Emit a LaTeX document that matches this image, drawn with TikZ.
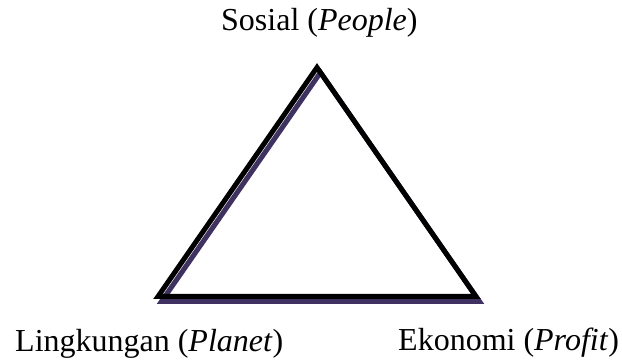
\documentclass[tikz,border=0pt]{standalone}
\usepackage{fontspec}
\setmainfont{Liberation Serif}
\begin{document}
\begin{tikzpicture}[x=1pt,y=1pt,
  lbl/.style={font=\fontsize{32}{38}\selectfont, inner sep=0pt, anchor=base west},
  edge/.style={line width=5pt, line join=miter},
  shadowedge/.style={line width=5pt, line join=miter, draw={rgb,255:red,64;green,50;blue,96}}]
\useasboundingbox (0,0) rectangle (622,362);
\coordinate (top) at (317,294.5);
\coordinate (bl) at (158,65.5);
\coordinate (br) at (476,65.5);
\draw[shadowedge] ([xshift=3.5pt,yshift=-5pt]top) -- ([xshift=3.5pt,yshift=-5pt]bl) -- ([xshift=3.5pt,yshift=-5pt]br) -- cycle;
\draw[edge] (top) -- (bl) -- (br) -- cycle;
\node[lbl] (s) at (221,331) {Sosial (\textit{People})};
\node[lbl] (l) at (15,11) {Lingkungan (\textit{Planet})};
\node[lbl] (e) at (398,12) {Ekonomi (\textit{Profit})};
\end{tikzpicture}
\end{document}
